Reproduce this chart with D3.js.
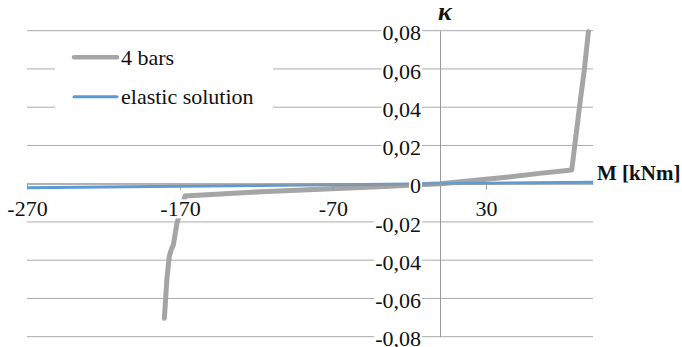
<!DOCTYPE html>
<html>
<head>
<meta charset="utf-8">
<script src="https://cdn.jsdelivr.net/npm/d3@7"></script>
<style>
  html, body { margin: 0; padding: 0; background: #fff; }
  svg text { font-family: "Liberation Serif", "Times New Roman", Times, serif !important; }
</style>
</head>
<body>
<div id="chart"></div>
<script>
const width = 682;
const height = 347;
const serif = "'Liberation Serif', 'Times New Roman', Times, serif";

// "4 bars" series, moment M [kNm] vs curvature kappa
const barsM = [-180.2, -178.6, -177, -175.4, -174.3, -172, -166.7, -117, -40, 0, 45, 65, 86.1, 92, 92.6, 94.3, 97];
const barsK = [-0.0704, -0.0504, -0.038, -0.0338, -0.032, -0.0207, -0.0064, -0.0042, -0.0016, 0, 0.0035, 0.0054, 0.0072, 0.0455, 0.049, 0.0594, 0.0795];

// elastic solution
const elasticM = [-270, 0, 100];
const elasticK = [-0.0021, 0, 0.0008];

const xTicks = [-270, -170, -70, 30];
const yTicks = [-0.08, -0.06, -0.04, -0.02, 0, 0.02, 0.04, 0.06, 0.08];
const seriesNames = ["4 bars", "elastic solution"];
const seriesColors = ["#a5a5a5", "#5b9bd5"];

const x = d3.scaleLinear().domain([-270, 100]).range([27, 593]);
const y = d3.scaleLinear().domain([-0.08, 0.08]).range([336.7, 30.7]);

const svg = d3.select("#chart").append("svg")
    .attr("width", width)
    .attr("height", height)
    .style("font-family", serif);

// gridlines
svg.append("g")
    .selectAll("line")
    .data(yTicks)
    .enter().append("line")
    .attr("x1", x(-270)).attr("x2", x(100))
    .attr("y1", d => y(d)).attr("y2", d => y(d))
    .attr("stroke", "#ababab")
    .attr("stroke-width", 1);

// x axis at kappa = 0
const xAxis = svg.append("g")
    .attr("transform", "translate(0," + y(0) + ")")
    .call(d3.axisBottom(x).tickValues(xTicks).tickSize(6).tickSizeOuter(0).tickFormat(d => d).tickPadding(13));
xAxis.select(".domain").attr("stroke", "#9a9a9a");
xAxis.selectAll(".tick line").attr("stroke", "#9a9a9a");

// y axis at M = 0
const yAxis = svg.append("g")
    .attr("transform", "translate(" + x(0) + ",0)")
    .call(d3.axisLeft(y).tickValues(yTicks).tickSize(0).tickPadding(19)
        .tickFormat(d => d === 0 ? "0" : (d < 0 ? "-" : "") + Math.abs(d).toFixed(2).replace(".", ",")));
yAxis.select(".domain").attr("stroke", "#9a9a9a");
[xAxis, yAxis].forEach(ax => ax.attr("font-family", serif).attr("font-size", 22));

const line = d3.line().x(d => x(d[0])).y(d => y(d[1]));

svg.append("path")
    .datum(barsM.map((m, i) => [m, barsK[i]]))
    .attr("d", line)
    .attr("fill", "none")
    .attr("stroke", seriesColors[0])
    .attr("stroke-width", 5)
    .attr("stroke-linecap", "round")
    .attr("stroke-linejoin", "round");

svg.append("path")
    .datum(elasticM.map((m, i) => [m, elasticK[i]]))
    .attr("d", line)
    .attr("fill", "none")
    .attr("stroke", seriesColors[1])
    .attr("stroke-width", 3);

// legend
const legend = svg.append("g");
legend.append("rect")
    .attr("x", 55).attr("y", 38).attr("width", 218).attr("height", 100)
    .attr("fill", "#fff");
seriesNames.forEach((name, i) => {
    const ly = 57.3 + i * 39.4;
    legend.append("line")
        .attr("x1", 74).attr("x2", 117)
        .attr("y1", ly).attr("y2", ly)
        .attr("stroke", seriesColors[i])
        .attr("stroke-width", i === 0 ? 4.5 : 3)
        .attr("stroke-linecap", "round");
    legend.append("text")
        .attr("x", 121).attr("y", ly + 7.5)
        .style("font-family", serif)
        .style("font-size", "22px")
        .attr("fill", "#111")
        .text(name);
});

// tick labels with white background, on top of everything
[xAxis, yAxis].forEach(ax => {
    ax.selectAll(".tick text")
        .style("font-family", serif)
        .style("font-size", "22px")
        .attr("fill", "#111");
});
yAxis.selectAll(".tick text").attr("dy", "0.42em");
xAxis.selectAll(".tick text").attr("dy", "0.62em");

svg.selectAll(".tick").each(function () {
    const t = d3.select(this).select("text");
    const b = t.node().getBBox();
    d3.select(this).insert("rect", "text")
        .attr("x", b.x - 1).attr("y", b.y + 3)
        .attr("width", b.width + 2).attr("height", b.height - 6)
        .attr("fill", "#fff");
});
xAxis.raise();
yAxis.raise();

// axis titles
svg.append("text")
    .attr("x", 597).attr("y", 180)
    .style("font-family", serif)
    .style("font-size", "21px")
    .attr("font-weight", "bold")
    .attr("fill", "#111")
    .text("M [kNm]");

svg.append("text")
    .attr("x", 445).attr("y", 20)
    .attr("text-anchor", "middle")
    .style("font-family", serif)
    .style("font-size", "26px")
    .attr("font-weight", "bold")
    .attr("font-style", "italic")
    .attr("fill", "#111")
    .text("κ");
</script>
</body>
</html>
